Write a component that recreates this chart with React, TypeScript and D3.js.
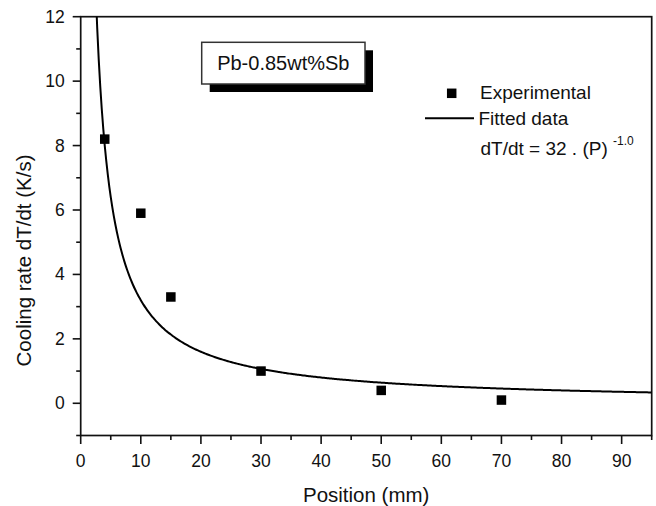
import React from "react";
import * as d3 from "d3";

// Experimental cooling rates measured along the casting
const positions = [4, 10, 15, 30, 50, 70];
const coolingRates = [8.2, 5.9, 3.3, 1.0, 0.4, 0.1];

// Power-law fit: dT/dt = A * P^b
const fitCoefficient = 32;
const fitExponent = -1.0;

const xTicks = [0, 10, 20, 30, 40, 50, 60, 70, 80, 90];
const xMinorTicks = [5, 15, 25, 35, 45, 55, 65, 75, 85, 95];
const yTicks = [0, 2, 4, 6, 8, 10, 12];
const yMinorTicks = [-1, 1, 3, 5, 7, 9, 11];

const W = 656;
const H = 506;
const FONT = "'Liberation Sans', Arial, Helvetica, sans-serif";

export default function App() {
  const left = 80.7;
  const right = 651.7;
  const top = 16.7;
  const bottom = 435.5;

  const x = d3.scaleLinear().domain([0, 95]).range([left, right]);
  const y = d3.scaleLinear().domain([-1, 12]).range([bottom, top]);

  const fitX = d3.range(2, 95.01, 0.25);
  const fitLine = d3
    .line<number>()
    .x((p) => x(p))
    .y((p) => y(fitCoefficient * Math.pow(p, fitExponent)))
    .curve(d3.curveMonotoneX);

  const axisColor = "#111";
  const markerSize = 9.5;

  return (
    <svg
      width={W}
      height={H}
      style={{ position: "absolute", left: 0, top: 0, background: "#fff" }}
      fontFamily={FONT}
    >
      <defs>
        <clipPath id="plotArea">
          <rect x={left} y={top} width={right - left} height={bottom - top} />
        </clipPath>
      </defs>

      {/* frame */}
      <rect
        x={left}
        y={top}
        width={right - left}
        height={bottom - top}
        fill="none"
        stroke={axisColor}
        strokeWidth={1.7}
      />

      {/* y ticks */}
      {yTicks.map((t) => (
        <g key={"y" + t}>
          <line x1={left - 8} x2={left} y1={y(t)} y2={y(t)} stroke={axisColor} strokeWidth={1.6} />
          <text x={left - 16} y={y(t) + 6} textAnchor="end" fontSize={17.5} fill="#111">
            {t}
          </text>
        </g>
      ))}
      {yMinorTicks.map((t) => (
        <line key={"ym" + t} x1={left - 4.5} x2={left} y1={y(t)} y2={y(t)} stroke={axisColor} strokeWidth={1.6} />
      ))}

      {/* x ticks */}
      {xTicks.map((t) => (
        <g key={"x" + t}>
          <line x1={x(t)} x2={x(t)} y1={bottom} y2={bottom + 8.5} stroke={axisColor} strokeWidth={1.6} />
          <text x={x(t)} y={466.8} textAnchor="middle" fontSize={17.5} fill="#111">
            {t}
          </text>
        </g>
      ))}
      {xMinorTicks.map((t) => (
        <line key={"xm" + t} x1={x(t)} x2={x(t)} y1={bottom} y2={bottom + 4.5} stroke={axisColor} strokeWidth={1.6} />
      ))}

      {/* axis titles */}
      <text x={x(47.5)} y={501.5} textAnchor="middle" fontSize={20.5} fill="#111">
        Position (mm)
      </text>
      <text
        transform={`translate(31,260.5) rotate(-90)`}
        textAnchor="middle"
        fontSize={20.5}
        fill="#111"
      >
        Cooling rate dT/dt (K/s)
      </text>

      {/* fitted curve */}
      <path
        d={fitLine(fitX) ?? ""}
        fill="none"
        stroke="#000"
        strokeWidth={2}
        clipPath="url(#plotArea)"
      />

      {/* experimental points */}
      {positions.map((p, i) => (
        <rect
          key={"pt" + i}
          x={x(p) - markerSize / 2}
          y={y(coolingRates[i]) - markerSize / 2}
          width={markerSize}
          height={markerSize}
          fill="#000"
        />
      ))}

      {/* alloy label box with drop shadow */}
      <rect x={209.7} y={50.3} width={163.3} height={41.7} fill="#000" />
      <rect x={201.7} y={42.3} width={163.3} height={41.7} fill="#fff" stroke="#333" strokeWidth={1.5} />
      <text x={283.3} y={69.5} textAnchor="middle" fontSize={20} fill="#111">
        Pb-0.85wt%Sb
      </text>

      {/* legend */}
      <rect x={451.7 - markerSize / 2} y={93.3 - markerSize / 2} width={markerSize} height={markerSize} fill="#000" />
      <text x={480} y={99} fontSize={19} fill="#111">
        Experimental
      </text>
      <line x1={425} x2={474} y1={118.3} y2={118.3} stroke="#000" strokeWidth={2} />
      <text x={478.5} y={124.5} fontSize={19} fill="#111">
        Fitted data
      </text>
      <text x={480.5} y={155} fontSize={19} fill="#111">
        dT/dt = 32 . (P)
      </text>
      <text x={613} y={145} fontSize={12} fill="#111">
        -1.0
      </text>
    </svg>
  );
}
